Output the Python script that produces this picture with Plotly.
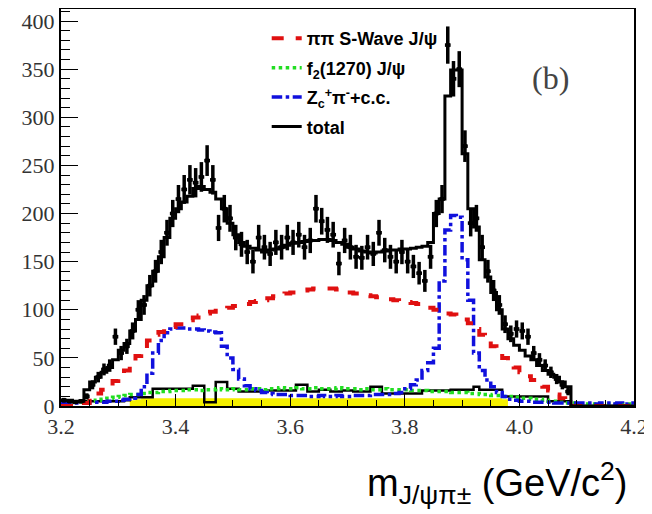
import numpy as np
import plotly.graph_objects as go

# bins: 0.01 GeV wide, from 3.20 to 4.20 (lower edges)
bin_lo = 3.20
bin_w = 0.01
n_bins = 100

# data (events / bin), bins 3.20 ... 4.08
data_counts = [6, 5, 4, 5, 10, 22, 30, 38, 42, 72,
               55, 62, 78, 100, 105, 125, 140, 160, 180, 200,
               215, 225, 235, 232, 238, 255, 235, 185, 205, 195,
               175, 168, 160, 150, 175, 165, 158, 170, 165, 175,
               170, 178, 165, 172, 205, 192, 183, 178, 148, 172,
               165, 155, 154, 165, 158, 180, 162, 155, 150, 160,
               150, 145, 138, 130, 155, 200, 215, 375, 340, 350,
               270, 190, 195, 165, 140, 120, 105, 85, 75, 80,
               78, 72, 55, 48, 42, 35, 28, 22, 15]

total_fit = [6, 6, 5, 5, 17, 25, 30, 35, 40, 48,
             58, 65, 78, 90, 110, 125, 140, 155, 175, 195,
             205, 212, 218, 226, 228, 225, 222, 215, 205, 190,
             178, 170, 166, 164, 162, 160, 162, 163, 165, 167,
             169, 170, 171, 172, 172, 173, 173, 172, 170, 168,
             165, 163, 161, 160, 159, 160, 161, 162, 162, 163,
             163, 164, 165, 166, 170, 200, 215, 322, 349, 349,
             262, 205, 186, 152, 134, 118, 100, 80, 70, 63,
             58, 52, 48, 42, 37, 33, 30, 25, 20, 0,
             0, 0, 0, 0, 0, 0, 0, 0, 0, 0]

s_wave = [0, 0, 0, 0, 3, 8, 13, 17, 21, 26,
          31, 37, 44, 52, 60, 68, 74, 77, 80, 82,
          85, 87, 89, 92, 94, 96, 98, 99, 101, 102,
          104, 105, 106, 108, 109, 110, 112, 114, 116, 117,
          118, 119, 120, 121, 122, 122, 122, 122, 121, 120,
          118, 117, 116, 115, 114, 113, 112, 111, 110, 109,
          108, 107, 106, 104, 102, 100, 98, 96, 95, 93,
          90, 86, 80, 74, 68, 62, 56, 50, 45, 40,
          35, 31, 27, 24, 20, 16, 12, 8, 4, 0,
          0, 0, 0, 0, 0, 0, 0, 0, 0, 0]

f2_1270 = [3, 3, 4, 4, 5, 5, 6, 7, 8, 9,
           10, 11, 12, 12, 13, 14, 14, 15, 15, 16,
           16, 16, 17, 17, 16, 17, 17, 18, 17, 17,
           18, 17, 17, 18, 18, 17, 18, 18, 19, 18,
           18, 19, 18, 18, 19, 18, 18, 18, 19, 18,
           18, 18, 17, 18, 17, 17, 18, 17, 17, 17,
           17, 16, 16, 16, 15, 15, 15, 15, 14, 14,
           14, 13, 13, 12, 12, 11, 11, 10, 10, 9,
           8, 8, 7, 7, 6, 5, 5, 4, 3, 3,
           2, 2, 2, 2, 2, 2, 2, 2, 2, 2]

zc_pi = [3, 3, 3, 3, 3, 4, 4, 4, 5, 5,
         6, 7, 8, 12, 20, 34, 55, 68, 76, 80,
         81, 81, 80, 80, 79, 78, 77, 76, 62, 50,
         38, 28, 21, 18, 16, 14, 13, 12, 12, 12,
         11, 11, 11, 10, 10, 11, 10, 10, 11, 10,
         10, 11, 11, 11, 12, 12, 12, 12, 13, 14,
         18, 22, 27, 37, 45, 60, 130, 183, 198, 196,
         152, 110, 55, 37, 27, 20, 14, 10, 7, 6,
         5, 5, 4, 4, 4, 4, 3, 3, 3, 3,
         3, 3, 3, 2, 3, 3, 2, 3, 2, 3]

black_bkg = [5, 5, 4, 4, 5, 5, 5, 5, 5, 5,
             5, 6, 9, 9, 9, 9, 18, 18, 18, 18,
             18, 18, 18, 21, 21, 4, 4, 25, 25, 18,
             18, 15, 15, 15, 15, 15, 16, 16, 16, 16,
             16, 22, 22, 15, 15, 17, 17, 15, 15, 16,
             16, 15, 15, 15, 20, 20, 13, 13, 13, 13,
             13, 13, 13, 16, 16, 16, 16, 16, 17, 17,
             17, 17, 20, 17, 17, 17, 17, 10, 10, 10,
             10, 10, 10, 10, 10, 5, 5, 5, 5, 0,
             0, 0, 0, 0, 0, 0, 0, 0, 0, 0]

sideband = [0, 0, 0, 0, 0, 0, 0, 0, 0, 0,
            0, 0, 6, 7, 8, 8, 8, 8, 8, 8,
            8, 8, 8, 8, 8, 8, 8, 8, 8, 8,
            8, 8, 8, 8, 8, 8, 8, 8, 8, 8,
            8, 8, 8, 8, 8, 8, 8, 8, 8, 8,
            8, 8, 8, 8, 8, 8, 8, 8, 8, 8,
            8, 8, 8, 8, 8, 8, 8, 8, 8, 8,
            8, 8, 8, 8, 8, 8, 8, 7, 0, 0,
            0, 0, 0, 0, 0, 0, 0, 0, 0, 0,
            0, 0, 0, 0, 0, 0, 0, 0, 0, 0]

legend_names = ["ππ S-Wave J/ψ", "f<sub>2</sub>(1270) J/ψ",
                "Z<sub>c</sub><sup>+</sup>π<sup>-</sup>+c.c.", "total"]

edges = np.round(bin_lo + bin_w * np.arange(n_bins + 1), 3)
centers = edges[:-1] + bin_w / 2


def step(vals):
    v = list(vals)
    return edges[:len(v) + 1], v + [v[-1]]


fig = go.Figure()

x, y = step(sideband)
fig.add_trace(go.Scatter(x=x, y=y, mode="lines", line=dict(shape="hv", width=0, color="#f5f000"),
                         fill="tozeroy", fillcolor="#f5f000", showlegend=False, hoverinfo="skip"))

x, y = step(black_bkg)
fig.add_trace(go.Scatter(x=x, y=y, mode="lines", line=dict(shape="hv", width=2.5, color="black"),
                         showlegend=False))

x, y = step(f2_1270)
fig.add_trace(go.Scatter(x=x, y=y, mode="lines", name=legend_names[1], legendgroup="b", legendrank=2,
                         line=dict(shape="hv", width=3.5, color="#22dd22", dash="dot")))

x, y = step(zc_pi)
fig.add_trace(go.Scatter(x=x, y=y, mode="lines", name=legend_names[2], legendgroup="c", legendrank=3,
                         line=dict(shape="hv", width=3.5, color="#1010dd", dash="dashdot")))

x, y = step(s_wave)
fig.add_trace(go.Scatter(x=x, y=y, mode="lines", name=legend_names[0], legendgroup="a", legendrank=1,
                         line=dict(shape="hv", width=4, color="#e01010", dash="dash")))

x, y = step(total_fit)
fig.add_trace(go.Scatter(x=x, y=y, mode="lines", name=legend_names[3], legendgroup="d", legendrank=4,
                         line=dict(shape="hv", width=3, color="black")))

n_d = len(data_counts)
fig.add_trace(go.Scatter(
    x=centers[:n_d], y=data_counts, mode="markers", showlegend=False,
    marker=dict(symbol="square", size=4, color="black"),
    error_x=dict(type="constant", value=bin_w / 2, thickness=3.5, width=0, color="black"),
    error_y=dict(type="data", array=np.sqrt(np.array(data_counts, dtype=float)),
                 thickness=3.5, width=0, color="black"),
))

tick_font = dict(family="Liberation Serif", size=22, color="#333333")

# the page body adds an 8 px offset, so the figure is 644 x 506
fig.update_layout(
    width=644, height=506,
    margin=dict(l=53, r=18, t=1, b=108, autoexpand=False),
    paper_bgcolor="white", plot_bgcolor="white",
    showlegend=True,
    legend=dict(x=0.359, y=0.972, xanchor="left", yanchor="top",
                font=dict(family="Liberation Sans", size=18, color="black", weight="bold"),
                bgcolor="rgba(255,255,255,0)", itemwidth=30, tracegroupgap=3,
                traceorder="grouped"),
    xaxis=dict(range=[3.2, 4.2], dtick=0.2, tick0=3.2, tickformat=".1f",
               showgrid=False, zeroline=False, automargin=False,
               showline=True, linewidth=2, linecolor="black", mirror=True,
               ticks="inside", ticklen=12, tickwidth=1, tickcolor="black",
               minor=dict(dtick=0.05, ticks="inside", ticklen=6, tickcolor="black"),
               tickfont=tick_font),
    yaxis=dict(range=[0, 412.5], dtick=50, tick0=0,
               showgrid=False, zeroline=False, automargin=False,
               showline=True, linewidth=2, linecolor="black", mirror=True,
               ticks="inside", ticklen=17, tickwidth=1, tickcolor="black",
               minor=dict(dtick=10, ticks="inside", ticklen=9, tickcolor="black"),
               tickfont=tick_font),
    annotations=[
        dict(text="(b)", xref="paper", yref="paper", x=0.855, y=0.825,
             xanchor="center", yanchor="middle", showarrow=False,
             font=dict(family="Liberation Serif", size=32, color="#444444")),
        dict(text="m<sub>J/ψπ±</sub> (GeV/c<sup>2</sup>)", xref="paper", yref="paper",
             x=0.993, y=-0.12, xanchor="right", yanchor="top", showarrow=False,
             font=dict(family="Liberation Sans", size=38, color="black")),
    ],
)

fig.write_html("out.html")
